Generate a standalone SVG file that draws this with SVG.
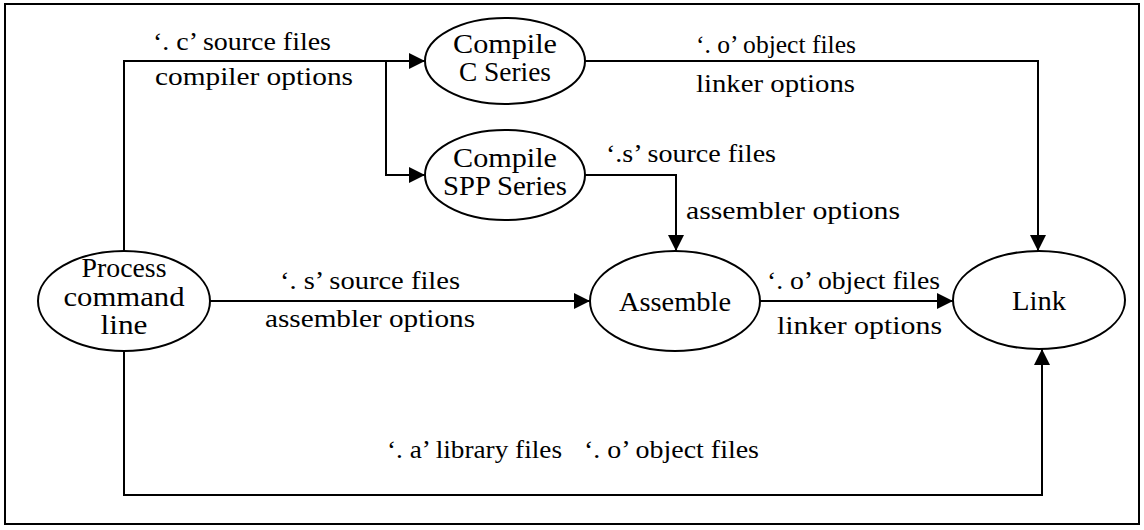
<svg xmlns="http://www.w3.org/2000/svg" width="1144" height="530" viewBox="0 0 1144 530">
<defs>
<style>
.n{fill:#fff;stroke:#000;stroke-width:2}
.c{fill:none;stroke:#000;stroke-width:2}
text{font-family:"Liberation Serif","DejaVu Serif",serif;font-size:25px;fill:#000}
.m{text-anchor:middle;font-size:28px}
</style>
<marker id="ah" markerUnits="userSpaceOnUse" markerWidth="18" markerHeight="16" refX="16" refY="8" orient="auto">
<path d="M0,0 L16,8 L0,16 Z" fill="#000"/>
</marker>
</defs>
<rect x="5" y="4" width="1134" height="520" fill="#fff" stroke="#000" stroke-width="2"/>
<g id="connectors">
<path class="c" d="M124,251 V61 H425" marker-end="url(#ah)"/>
<path class="c" d="M386,61 V175 H425" marker-end="url(#ah)"/>
<path class="c" d="M585,61 H1038 V251" marker-end="url(#ah)"/>
<path class="c" d="M585,175 H676 V251" marker-end="url(#ah)"/>
<path class="c" d="M210,301 H590" marker-end="url(#ah)"/>
<path class="c" d="M760,301 H953" marker-end="url(#ah)"/>
<path class="c" d="M124,351 V495 H1042 V349" marker-end="url(#ah)"/>
<text x="153" y="50" textLength="178" lengthAdjust="spacingAndGlyphs">‘. c’ source files</text>
<text x="155" y="85" textLength="198" lengthAdjust="spacingAndGlyphs">compiler options</text>
<text x="696" y="53" textLength="160" lengthAdjust="spacingAndGlyphs">‘. o’ object files</text>
<text x="696" y="92" textLength="159" lengthAdjust="spacingAndGlyphs">linker options</text>
<text x="606" y="162" textLength="170" lengthAdjust="spacingAndGlyphs">‘.s’ source files</text>
<text x="686" y="219" textLength="214" lengthAdjust="spacingAndGlyphs">assembler options</text>
<text x="280" y="289" textLength="180" lengthAdjust="spacingAndGlyphs">‘. s’ source files</text>
<text x="265" y="327" textLength="210" lengthAdjust="spacingAndGlyphs">assembler options</text>
<text x="767" y="289" textLength="173" lengthAdjust="spacingAndGlyphs">‘. o’ object files</text>
<text x="777" y="334" textLength="165" lengthAdjust="spacingAndGlyphs">linker options</text>
<text x="387" y="458" textLength="175" lengthAdjust="spacingAndGlyphs">‘. a’ library files</text>
<text x="584" y="458" textLength="175" lengthAdjust="spacingAndGlyphs">‘. o’ object files</text>
</g>
<g id="process">
<ellipse class="n" cx="124" cy="301" rx="86" ry="50"/>
<text class="m" x="124" y="277" textLength="85" lengthAdjust="spacingAndGlyphs">Process</text>
<text class="m" x="124" y="306" textLength="121" lengthAdjust="spacingAndGlyphs">command</text>
<text class="m" x="124" y="334" textLength="47" lengthAdjust="spacingAndGlyphs">line</text>
</g>
<g id="compile-c">
<ellipse class="n" cx="505" cy="61" rx="80" ry="43"/>
<text class="m" x="505" y="53" textLength="104" lengthAdjust="spacingAndGlyphs">Compile</text>
<text class="m" x="505" y="81" textLength="92" lengthAdjust="spacingAndGlyphs">C Series</text>
</g>
<g id="compile-spp">
<ellipse class="n" cx="505" cy="175" rx="80" ry="45"/>
<text class="m" x="505" y="167" textLength="104" lengthAdjust="spacingAndGlyphs">Compile</text>
<text class="m" x="505" y="195" textLength="124" lengthAdjust="spacingAndGlyphs">SPP Series</text>
</g>
<g id="assemble">
<ellipse class="n" cx="675" cy="301" rx="85" ry="50"/>
<text class="m" x="675" y="311" textLength="112" lengthAdjust="spacingAndGlyphs">Assemble</text>
</g>
<g id="link">
<ellipse class="n" cx="1039" cy="300" rx="86" ry="49"/>
<text class="m" x="1039" y="310" textLength="54" lengthAdjust="spacingAndGlyphs">Link</text>
</g>
</svg>
